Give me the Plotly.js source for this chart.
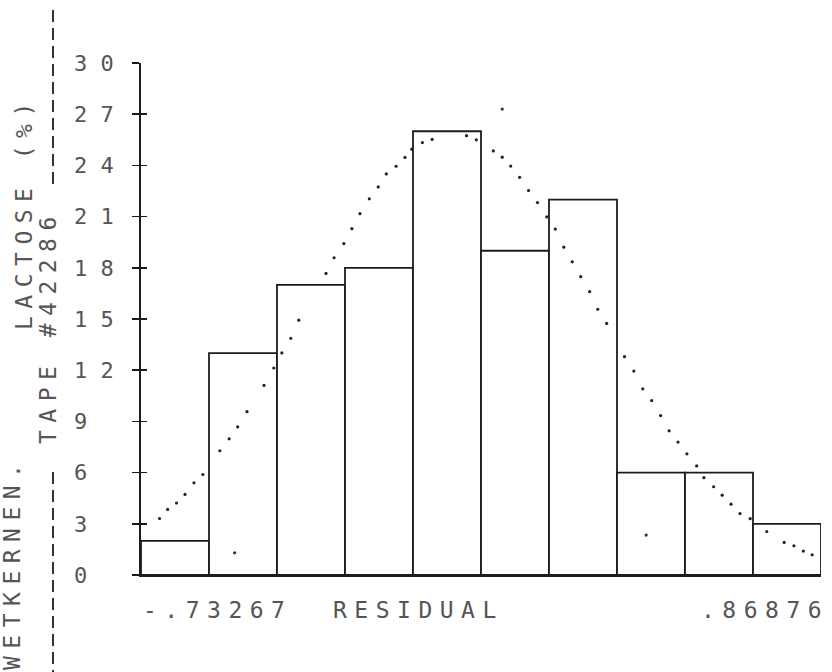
<!DOCTYPE html>
<html>
<head>
<meta charset="utf-8">
<script src="https://cdn.plot.ly/plotly-3.0.1.min.js"></script>
<style>
  html, body { margin: 0; padding: 0; background: #fff; }
  #chart { width: 832px; height: 672px; }
  /* plotter-style wide lettering for the free text labels */
  .annotation-text { letter-spacing: 7.5px; }
</style>
</head>
<body>
<div id="chart"></div>
<script>
// Residual range of the histogram
const residMin = -0.73267;
const residMax = 0.86876;

// Counts per class (10 equal classes)
const counts = [2, 13, 17, 18, 26, 19, 22, 6, 6, 3];

// Fitted normal curve, plotted as dots (residual, count)
const curveX = [-0.689, -0.670, -0.649, -0.629, -0.608, -0.587, -0.547, -0.525, -0.505, -0.483,
                -0.443, -0.420, -0.401, -0.380, -0.361, -0.297, -0.278, -0.255, -0.236, -0.217,
                -0.195, -0.174, -0.155, -0.132, -0.111, -0.095, -0.070, -0.047, 0.034, 0.057,
                0.097, 0.118, 0.138, 0.159, 0.180, 0.201, 0.223, 0.243, 0.263, 0.283,
                0.303, 0.324, 0.343, 0.364, 0.406, 0.428, 0.449, 0.470, 0.491, 0.511,
                0.532, 0.553, 0.576, 0.593, 0.616, 0.636, 0.657, 0.678, 0.702, 0.741,
                0.782, 0.805, 0.827, 0.848];
const curveY = [3.31, 3.84, 4.22, 4.72, 5.40, 5.89, 7.28, 7.98, 8.68, 9.57,
                11.11, 12.13, 13.01, 13.87, 14.93, 17.67, 18.59, 19.42, 20.29, 21.17,
                22.04, 22.74, 23.50, 23.95, 24.47, 24.95, 25.34, 25.52, 25.74, 25.50,
                24.85, 24.48, 23.96, 23.30, 22.53, 21.82, 20.98, 20.27, 19.21, 18.35,
                17.48, 16.60, 15.57, 14.74, 12.79, 11.95, 10.91, 10.22, 9.34, 8.45,
                7.79, 7.10, 6.39, 5.70, 5.17, 4.68, 4.15, 3.60, 3.30, 2.55,
                1.91, 1.71, 1.40, 1.18];

// Loose plotter dots
const strayX = [0.118, -0.512, 0.457];
const strayY = [27.3, 1.3, 2.34];

// Y axis ticks
const yTicks = [0, 3, 6, 9, 12, 15, 18, 21, 24, 27, 30];
const yTickText = ['0', '3', '6', '9', '1 2', '1 5', '1 8', '2 1', '2 4', '2 7', '3 0'];

// Text labels
const xLeftLabel = '-.73267';
const xRightLabel = '.86876';
const xTitle = 'RESIDUAL';
const sideLabel1 = 'LACTOSE (%)';
const sideLabel2 = 'TAPE #42286';
const sideLabel3 = 'WETKERNEN.';

// pad tick text to three monospace cells so single digits sit in the first column
const NB = '\u00a0';
const yTickLabels = yTickText.map(t => (t.length === 1 ? t + NB + NB : t.replace(' ', NB)));

const binW = (residMax - residMin) / counts.length;
const binCenters = counts.map((_, i) => residMin + binW * (i + 0.5));

const ink = '#1c1c1c';
const textInk = '#555555';
const mono = 'DejaVu Sans Mono, monospace';

const traces = [
  {
    type: 'bar',
    x: binCenters,
    y: counts,
    width: binW,
    marker: { color: '#ffffff', line: { color: ink, width: 1.8 } },
    hoverinfo: 'skip'
  },
  {
    type: 'scatter',
    mode: 'markers',
    x: curveX,
    y: curveY,
    marker: { color: '#222', size: 3.2 },
    hoverinfo: 'skip'
  },
  {
    type: 'scatter',
    mode: 'markers',
    x: strayX,
    y: strayY,
    marker: { color: '#333', size: 3.2 },
    hoverinfo: 'skip'
  },
  {
    // invisible carrier for the inner half of the crossing tick marks
    type: 'scatter',
    mode: 'markers',
    x: [residMin],
    y: [0],
    yaxis: 'y2',
    marker: { opacity: 0 },
    hoverinfo: 'skip'
  }
];

const plotLeft = 141, plotRight = 821, plotTop = 63, plotBottom = 575;
const W = 832, H = 672;
const px = v => (v - plotLeft) / (plotRight - plotLeft);
const py = v => (plotBottom - v) / (plotBottom - plotTop);

const labelFont = { family: mono, size: 23, color: textInk };

const layout = {
  width: W,
  height: H,
  margin: { l: plotLeft, r: W - plotRight, t: plotTop, b: H - plotBottom },
  paper_bgcolor: '#ffffff',
  plot_bgcolor: '#ffffff',
  showlegend: false,
  bargap: 0,
  xaxis: {
    range: [residMin, residMax],
    showgrid: false,
    zeroline: false,
    showline: true,
    linecolor: ink,
    linewidth: 1.6,
    ticks: '',
    showticklabels: false,
    fixedrange: true
  },
  yaxis: {
    range: [0, 30],
    tickvals: yTicks,
    ticktext: yTickLabels,
    showgrid: false,
    zeroline: false,
    showline: true,
    linecolor: ink,
    linewidth: 1.8,
    ticks: 'outside',
    ticklen: 7,
    tickwidth: 1.6,
    tickcolor: ink,
    ticklabelstandoff: 14,
    tickfont: { family: mono, size: 22, color: textInk },
    fixedrange: true
  },
  yaxis2: {
    range: [0, 30],
    overlaying: 'y',
    side: 'left',
    tickvals: yTicks,
    showticklabels: false,
    showgrid: false,
    zeroline: false,
    showline: false,
    ticks: 'inside',
    ticklen: 6,
    tickwidth: 1.6,
    tickcolor: ink,
    fixedrange: true
  },
  annotations: [
    { text: xLeftLabel, xref: 'paper', yref: 'paper', x: px(141), y: py(610),
      xanchor: 'left', yanchor: 'middle', showarrow: false, font: labelFont },
    { text: xTitle, xref: 'paper', yref: 'paper', x: px(331), y: py(610),
      xanchor: 'left', yanchor: 'middle', showarrow: false, font: labelFont },
    { text: xRightLabel, xref: 'paper', yref: 'paper', x: px(831), y: py(610),
      xanchor: 'right', yanchor: 'middle', showarrow: false, font: labelFont },
    { text: sideLabel1, xref: 'paper', yref: 'paper', x: px(24), y: py(213),
      xanchor: 'center', yanchor: 'middle', textangle: -90, showarrow: false, font: labelFont },
    { text: sideLabel2, xref: 'paper', yref: 'paper', x: px(48), y: py(326),
      xanchor: 'center', yanchor: 'middle', textangle: -90, showarrow: false, font: labelFont },
    { text: sideLabel3, xref: 'paper', yref: 'paper', x: px(12), y: py(564),
      xanchor: 'center', yanchor: 'middle', textangle: -90, showarrow: false, font: labelFont }
  ],
  shapes: [
    { type: 'line', xref: 'paper', yref: 'paper', x0: px(53), x1: px(53), y0: py(10), y1: py(190),
      line: { color: '#333', width: 2, dash: '12px,6px' } },
    { type: 'line', xref: 'paper', yref: 'paper', x0: px(53), x1: px(53), y0: py(472), y1: py(680),
      line: { color: '#333', width: 2, dash: '12px,6px' } }
  ]
};

Plotly.newPlot('chart', traces, layout, { displayModeBar: false, staticPlot: true });
</script>
</body>
</html>
